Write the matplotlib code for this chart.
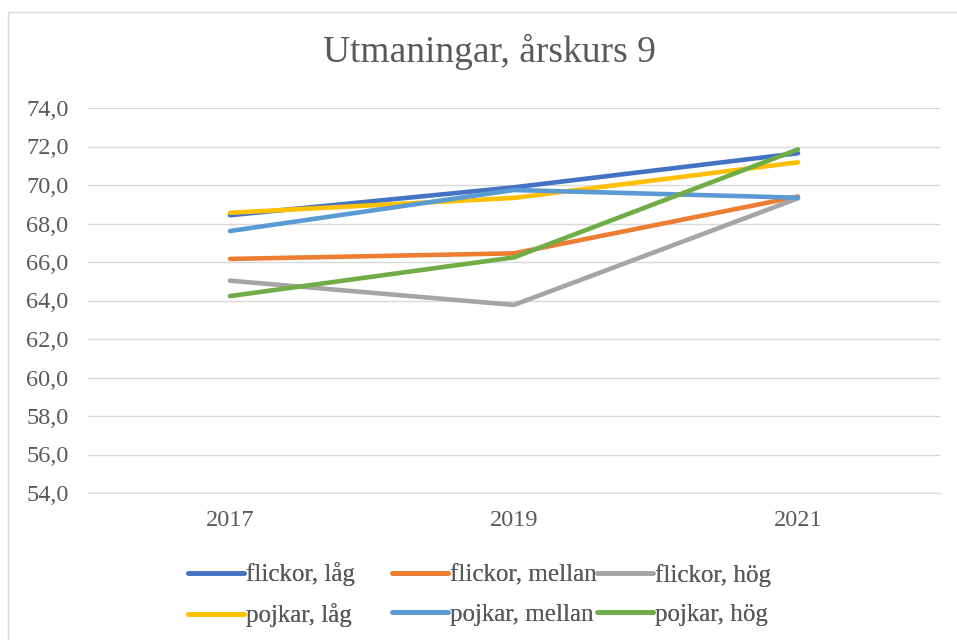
import matplotlib.pyplot as plt
from matplotlib.patches import Rectangle
from matplotlib.ticker import FuncFormatter

plt.rcParams['font.family'] = ['Liberation Serif', 'DejaVu Serif']

years = ['2017', '2019', '2021']
flickor_lag = [68.43, 69.88, 71.65]
flickor_mellan = [66.16, 66.45, 69.4]
flickor_hog = [65.03, 63.77, 69.31]
pojkar_lag = [68.56, 69.33, 71.18]
pojkar_mellan = [67.61, 69.74, 69.34]
pojkar_hog = [64.23, 66.24, 71.85]

series = [
    ('flickor, låg', flickor_lag, '#4472C4'),
    ('flickor, mellan', flickor_mellan, '#ED7D31'),
    ('flickor, hög', flickor_hog, '#A5A5A5'),
    ('pojkar, låg', pojkar_lag, '#FFC000'),
    ('pojkar, mellan', pojkar_mellan, '#5B9BD5'),
    ('pojkar, hög', pojkar_hog, '#70AD47'),
]

txt = '#595959'
fig = plt.figure(figsize=(9.57, 6.40), dpi=100)
ax = fig.add_axes([88/957, 1-493/640, (940-88)/957, (493-108)/640])

x = list(range(len(years)))
lines = {}
for name, vals, col in series:
    ln, = ax.plot(x, vals, color=col, lw=3.3, solid_capstyle='round', label=name)
    lines[name] = ln

ax.set_xlim(-0.5, 2.5)
ax.set_ylim(54, 74)
ax.set_yticks(range(54, 75, 2))
ax.yaxis.set_major_formatter(FuncFormatter(lambda v, p: f'{v:.1f}'.replace('.', ',')))
ax.set_xticks(x)
ax.set_xticklabels(years)
ax.tick_params(axis='both', length=0, labelsize=17.5, colors=txt)
ax.tick_params(axis='y', pad=14)
ax.tick_params(axis='x', pad=12)
ax.grid(axis='y', color='#D9D9D9', lw=1)
ax.set_axisbelow(True)
for s in ax.spines.values():
    s.set_visible(False)
ax.spines['bottom'].set_visible(True)
ax.spines['bottom'].set_color('#D9D9D9')

fig.text(489/957, 1-52/640, 'Utmaningar, årskurs 9', ha='center', va='center', fontsize=27, color=txt)

# Excel-like legend: three fixed-width columns
columns = [
    (188, ['flickor, låg', 'pojkar, låg']),
    (392, ['flickor, mellan', 'pojkar, mellan']),
    (597, ['flickor, hög', 'pojkar, hög']),
]
for xpix, names in columns:
    leg = fig.legend([lines[n] for n in names], names, loc='center left',
                     bbox_to_anchor=(xpix/957, 1-595/640), frameon=False, fontsize=18,
                     labelcolor=txt, handlelength=2.25, handletextpad=0.08,
                     labelspacing=0.68, borderpad=0, borderaxespad=0)
    fig.add_artist(leg)

fig.patches.append(Rectangle((8/957, -0.1), 1.2, 1.1-12/640, transform=fig.transFigure,
                             fill=False, edgecolor='#D9D9D9', lw=1))

fig.savefig('out.png', dpi=100)
